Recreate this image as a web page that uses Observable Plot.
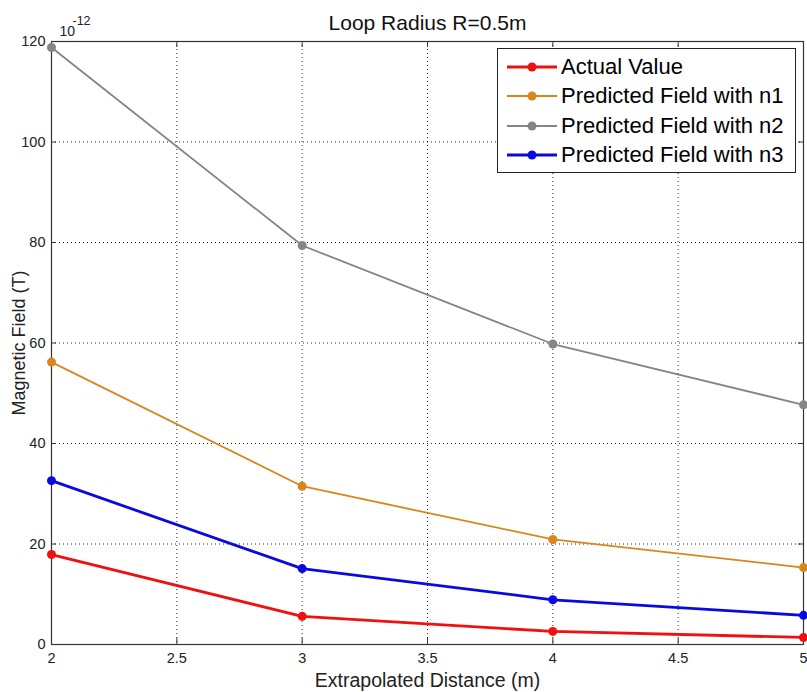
<!DOCTYPE html>
<html>
<head>
<meta charset="utf-8">
<script src="https://cdn.jsdelivr.net/npm/d3@7"></script>
<script src="https://cdn.jsdelivr.net/npm/@observablehq/plot@0.6"></script>
<style>
  body { margin: 0; background: #fff; font-family: "Liberation Sans", Arial, sans-serif; }
  #wrap { position: relative; width: 807px; height: 692px; }
  #legend { position: absolute; left: 497px; top: 48px; width: 297px; height: 123px; border: 1px solid #222; background: #fff; }
  .row { position: absolute; left: 0; height: 30px; display: flex; align-items: center; }
  .row span { font-size: 22px; color: #000; margin-left: 2px; white-space: nowrap; }
</style>
</head>
<body>
<div id="wrap"></div>
<script>
const distances = [2, 3, 4, 5];
const actualValue = [17.9, 5.6, 2.6, 1.4];
const predictedN1 = [56.2, 31.5, 20.9, 15.3];
const predictedN2 = [118.8, 79.4, 59.8, 47.7];
const predictedN3 = [32.6, 15.1, 8.9, 5.8];
const seriesNames = ["Actual Value", "Predicted Field with n1", "Predicted Field with n2", "Predicted Field with n3"];
const seriesColors = ["#f01010", "#d9861c", "#858585", "#0a0ae0"];
const seriesWidths = [2.8, 1.8, 1.8, 2.8];
const xTicks = [2, 2.5, 3, 3.5, 4, 4.5, 5];
const yTicks = [0, 20, 40, 60, 80, 100, 120];

const seriesValues = [actualValue, predictedN1, predictedN2, predictedN3];
const data = [];
seriesNames.forEach((name, i) => {
  distances.forEach((d, j) => data.push({series: name, x: d, y: seriesValues[i][j]}));
});

const fontFam = "Liberation Sans, Arial, sans-serif";
const tickColor = "#333";

const chart = Plot.plot({
  width: 807,
  height: 692,
  marginLeft: 51,
  marginRight: 4,
  marginTop: 41,
  marginBottom: 48,
  style: {fontFamily: fontFam, background: "#fff"},
  x: {domain: [2, 5]},
  y: {domain: [0, 120]},
  color: {domain: seriesNames, range: seriesColors},
  marks: [
    Plot.gridX(xTicks.slice(1, -1), {stroke: "#000", strokeOpacity: 0.85, strokeDasharray: "1,3"}),
    Plot.gridY(yTicks.slice(1, -1), {stroke: "#000", strokeOpacity: 0.85, strokeDasharray: "1,3"}),
    Plot.ruleX(xTicks, {x: d => d, y1: 0, y2: 1.2, stroke: tickColor}),
    Plot.ruleX(xTicks, {x: d => d, y1: 120, y2: 118.8, stroke: tickColor}),
    Plot.ruleY(yTicks, {y: d => d, x1: 2, x2: 2.02, stroke: tickColor}),
    Plot.ruleY(yTicks, {y: d => d, x1: 5, x2: 4.98, stroke: tickColor}),
    Plot.frame({stroke: "#333", strokeWidth: 1.2}),
    Plot.axisX({ticks: xTicks, tickSize: 0, tickPadding: 8, fontSize: 14.5, color: "#222", tickFormat: d => String(d), label: null}),
    Plot.axisY({ticks: yTicks, tickSize: 0, tickPadding: 6, fontSize: 14.5, color: "#222", tickFormat: d => String(d), label: null}),
    ...seriesNames.map((name, i) => Plot.line(data.filter(d => d.series === name), {x: "x", y: "y", stroke: seriesColors[i], strokeWidth: seriesWidths[i]})),
    Plot.dot(data, {x: "x", y: "y", fill: "series", r: 4.5}),
    Plot.text(["Loop Radius R=0.5m"], {frameAnchor: "top", lineAnchor: "bottom", dy: -12, fontSize: 21, fill: "#111"}),
    Plot.text(["Extrapolated Distance (m)"], {frameAnchor: "bottom", lineAnchor: "middle", textAnchor: "middle", dy: 36, fontSize: 19.5, fill: "#222"}),
    Plot.text(["Magnetic Field (T)"], {frameAnchor: "left", textAnchor: "middle", lineAnchor: "middle", dx: -32, rotate: -90, fontSize: 18, fill: "#222"}),
    Plot.text(["10"], {frameAnchor: "top-left", lineAnchor: "bottom", textAnchor: "start", dx: 8, dy: -6, fontSize: 14, fill: "#222"}),
    Plot.text(["-12"], {frameAnchor: "top-left", lineAnchor: "bottom", textAnchor: "start", dx: 21, dy: -17, fontSize: 12.5, fill: "#222"})
  ]
});

const wrap = document.getElementById("wrap");
wrap.appendChild(chart);

const legend = document.createElement("div");
legend.id = "legend";
seriesNames.forEach((name, i) => {
  const row = document.createElement("div");
  row.className = "row";
  row.style.top = (3 + i * 29.3) + "px";
  const svg = `<svg width="52" height="30" style="margin-left:9px"><line x1="0" y1="15" x2="50" y2="15" stroke="${seriesColors[i]}" stroke-width="${seriesWidths[i]}"/><circle cx="25" cy="15" r="4.5" fill="${seriesColors[i]}"/></svg>`;
  row.innerHTML = svg + `<span>${name}</span>`;
  legend.appendChild(row);
});
wrap.appendChild(legend);
</script>
</body>
</html>
